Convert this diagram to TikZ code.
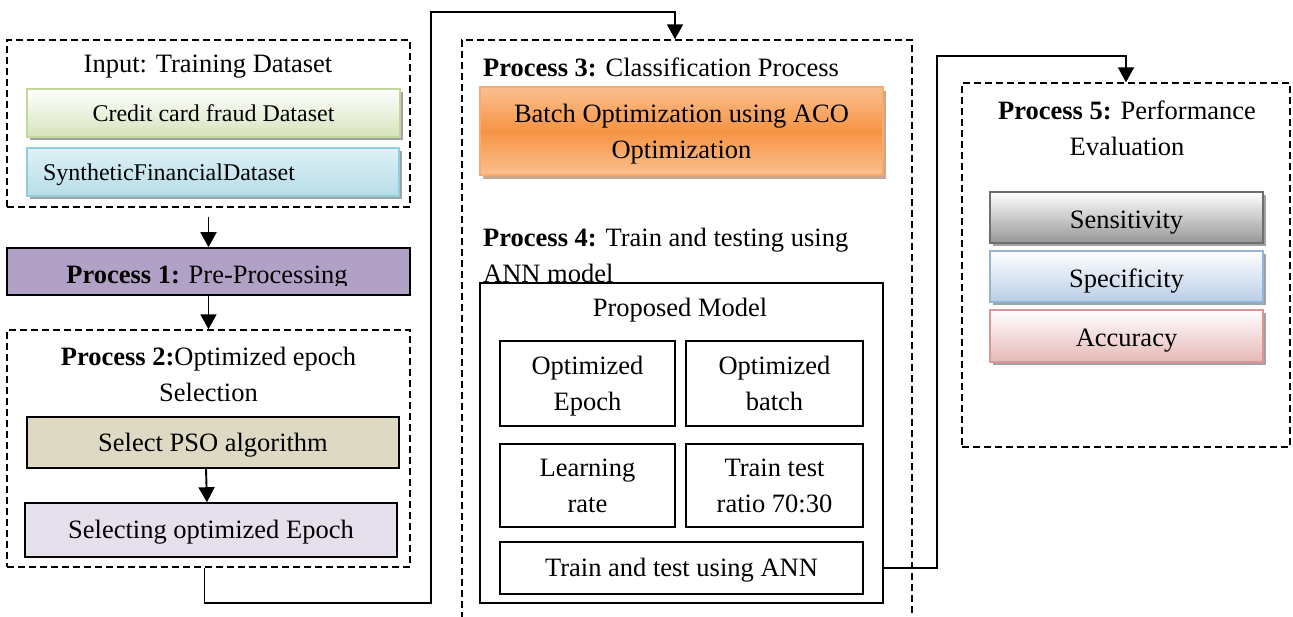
\documentclass[tikz,border=0pt]{standalone}
\usepackage{fontspec}
\setmainfont{Liberation Serif}
\usetikzlibrary{arrows.meta,shadows}
\definecolor{ccB}{RGB}{195,214,155}
\definecolor{ccF}{RGB}{214,227,188}
\definecolor{synB}{RGB}{146,205,220}
\definecolor{synT}{RGB}{222,241,246}
\definecolor{synF}{RGB}{183,221,232}
\definecolor{pone}{RGB}{178,161,199}
\definecolor{psoF}{RGB}{221,217,195}
\definecolor{selF}{RGB}{229,224,236}
\definecolor{acoB}{RGB}{247,170,110}
\definecolor{acoL}{RGB}{250,192,143}
\definecolor{acoM}{RGB}{246,148,68}
\definecolor{acoS}{RGB}{152,78,22}
\definecolor{senB}{RGB}{110,110,110}
\definecolor{senF}{RGB}{150,150,150}
\definecolor{speB}{RGB}{149,179,215}
\definecolor{speF}{RGB}{185,205,229}
\definecolor{accB}{RGB}{217,150,148}
\definecolor{accF}{RGB}{230,184,183}
\tikzset{
  grp/.style={draw, dash pattern=on 7pt off 4pt, line width=1.5pt, inner sep=0pt},
  box/.style={draw, line width=1.6pt, inner sep=0pt, align=center},
  one/.style={text height=20pt, text depth=3pt},
  onelow/.style={text height=22pt, text depth=1pt},
  two/.style={text depth=0pt},
  shd/.style={drop shadow={shadow xshift=3pt, shadow yshift=-3pt, fill=black!45, opacity=0.8}},
  arr/.style={line width=1.9pt, -{Triangle[width=16pt,length=15pt]}},
  txt/.style={inner sep=0pt, align=center},
  small/.style={font=\fontsize{24}{32}\selectfont}
}
\begin{document}
\begin{tikzpicture}[x=1pt,y=-1pt, every node/.style={font=\fontsize{26.5}{36}\selectfont}]
\useasboundingbox (0,0) rectangle (1293,616);
\clip (0,0) rectangle (1293,616);
% Input group
\node[grp, minimum width=403pt, minimum height=167pt] (in) at (208.5,123.5) {};
\node[txt] (intitle) at (208,67) {Input: Training Dataset};
\node[box, small, shd, draw=ccB, top color=white, bottom color=ccF, minimum width=373pt, minimum height=48pt] (cc) at (213.5,113) {Credit card fraud Dataset};
\node[box, small, shd, one, draw=synB, top color=synT, bottom color=synF, minimum width=372pt, minimum height=48pt, text width=340pt, align=left] (syn) at (213,172) {SyntheticFinancialDataset};
% Process 1
\node[box, fill=pone, minimum width=403pt, minimum height=47pt] (p1) at (208.5,271.5) {};
\begin{scope}
\clip (7,240) rectangle (410,285);
\node[txt, anchor=base] (p1t) at (207,283) {\textbf{Process 1:} Pre-Processing};
\end{scope}
% Process 2 group
\node[grp, minimum width=403pt, minimum height=237pt] (p2) at (208.5,448.5) {};
\node[txt] (p2t) at (208.5,374) {\textbf{Process 2:}Optimized epoch\\Selection};
\node[box, one, fill=psoF, minimum width=372pt, minimum height=51pt] (pso) at (213,442.5) {Select PSO algorithm};
\node[box, one, fill=selF, minimum width=372pt, minimum height=54pt] (sel) at (211,530) {Selecting optimized Epoch};
% Process 3 group
\node[grp, minimum width=450pt, minimum height=585pt] (p3) at (687,332.5) {};
\node[txt, anchor=west] (p3t) at (483,67) {\textbf{Process 3:} Classification Process};
\node[box, two, draw=acoB, line width=1.4pt, top color=acoL, bottom color=acoL, middle color=acoM,
  drop shadow={shadow xshift=3pt, shadow yshift=-4pt, fill=acoS}, minimum width=403pt, minimum height=88pt] (aco) at (681.5,131) {Batch Optimization using ACO\\Optimization};
\node[txt, anchor=west, align=left] (p4t) at (483,255) {\textbf{Process 4:} Train and testing using\\ANN model};
\node[box, minimum width=403pt, minimum height=320pt] (pm) at (681.5,443) {};
\node[txt] (pmt) at (680,310) {Proposed Model};
\node[box, two, minimum width=175pt, minimum height=85pt] (oe) at (587.5,383.5) {Optimized\\Epoch};
\node[box, two, minimum width=177pt, minimum height=85pt] (ob) at (774.5,383.5) {Optimized\\batch};
\node[box, two, minimum width=175pt, minimum height=83pt] (lr) at (587.5,485.5) {Learning\\rate};
\node[box, two, minimum width=177pt, minimum height=83pt] (tt) at (774.5,485.5) {Train test\\ratio 70:30};
\node[box, one, minimum width=363pt, minimum height=52pt] (ann) at (681.5,568) {Train and test using ANN};
% Process 5 group
\node[grp, minimum width=328pt, minimum height=364pt] (p5) at (1126,265) {};
\node[txt] (p5t) at (1127,128) {\textbf{Process 5:} Performance\\Evaluation};
\node[box, shd, onelow, draw=senB, top color=white, bottom color=senF, minimum width=273pt, minimum height=51pt] (sens) at (1126.5,217.5) {Sensitivity};
\node[box, shd, onelow, draw=speB, top color=white, bottom color=speF, minimum width=273pt, minimum height=51pt] (spec) at (1126.5,276.5) {Specificity};
\node[box, shd, onelow, draw=accB, top color=white, bottom color=accF, minimum width=273pt, minimum height=52pt] (acc) at (1126.5,336) {Accuracy};
% connectors
\coordinate (c1) at (431,603);
\coordinate (c2) at (431,12);
\coordinate (c3) at (937,56);
\draw[arr] ([yshift=-9pt]in.south) -- (p1.north);
\draw[arr] (p1.south) -- (p2.north);
\draw[arr] ([xshift=-7pt]pso.south) -- ([xshift=-4pt]sel.north);
\draw[arr] ([xshift=-4pt]p2.south) |- (c1) |- (c2) -| ([xshift=-12pt]p3.north);
\draw[arr] (ann.east -| pm.east) -| (c3) -| (p5.north);
\end{tikzpicture}
\end{document}
